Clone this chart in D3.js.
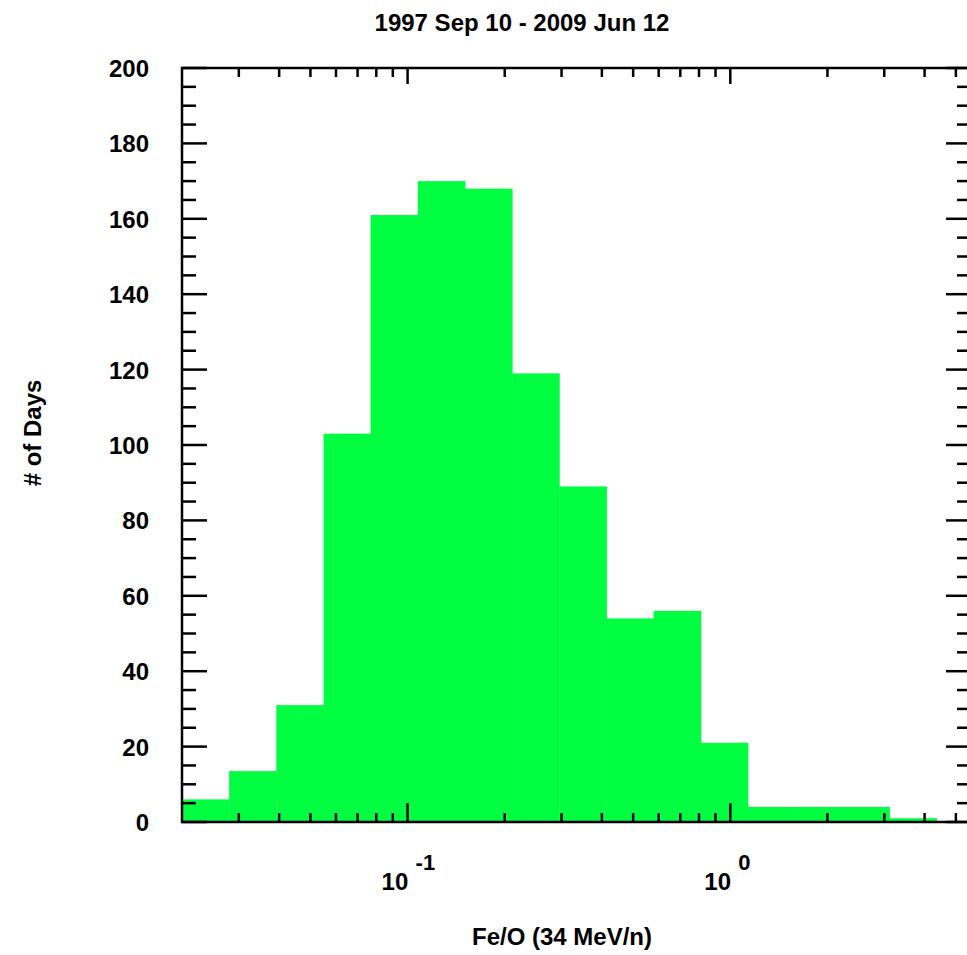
<!DOCTYPE html>
<html>
<head>
<meta charset="utf-8">
<script src="https://cdn.jsdelivr.net/npm/d3@7"></script>
<style>
  body { margin: 0; background: #fff; }
  svg { font-family: "Liberation Sans", Arial, sans-serif; font-weight: bold; }
</style>
</head>
<body>
<svg id="chart" width="967" height="955"></svg>
<script>
// bin edges of Fe/O ratio (log-spaced)
var binEdges = [0.0200, 0.0280, 0.0392, 0.0549, 0.0768, 0.1076, 0.1506, 0.2108, 0.2951,
                0.4132, 0.5785, 0.8099, 1.1338, 1.5874, 2.2224, 3.1113, 4.3558];
// days per bin
var dayCounts = [6, 13.5, 31, 103, 161, 170, 168, 119, 89, 54, 56, 21, 4, 4, 4, 1];
var yTicks = [0, 20, 40, 60, 80, 100, 120, 140, 160, 180, 200];
var xMajor = [{v: 0.1, exp: "-1"}, {v: 1, exp: "0"}];
var xMinor = [0.03, 0.04, 0.05, 0.06, 0.07, 0.08, 0.09, 0.2, 0.3, 0.4, 0.5, 0.6, 0.7, 0.8, 0.9, 2, 3, 4, 5];

var svg = d3.select("#chart");
var plotL = 182, plotR = 971, plotT = 68, plotB = 822;

var x = d3.scaleLog().domain([0.02, 5.57]).range([plotL, plotR]);
var y = d3.scaleLinear().domain([0, 200]).range([plotB, plotT]);

var bins = dayCounts.map(function(c, i) {
  return { x0: binEdges[i], x1: binEdges[i + 1], n: c };
});

svg.append("g").selectAll("rect")
  .data(bins)
  .enter().append("rect")
  .attr("x", d => x(d.x0))
  .attr("width", d => x(d.x1) - x(d.x0) + 0.5)
  .attr("y", d => y(d.n))
  .attr("height", d => plotB - y(d.n))
  .attr("fill", "#00ff40");

var ax = svg.append("g").attr("stroke", "#000").attr("stroke-width", 2.5);

// frame
ax.append("rect").attr("x", plotL).attr("y", plotT)
  .attr("width", plotR - plotL).attr("height", plotB - plotT)
  .attr("fill", "none");

// y ticks, left and right
d3.range(0, 201, 5).forEach(function(v) {
  var len = v % 20 === 0 ? 25 : 14;
  ax.append("line").attr("x1", plotL).attr("x2", plotL + len).attr("y1", y(v)).attr("y2", y(v));
  ax.append("line").attr("x1", plotR).attr("x2", plotR - len).attr("y1", y(v)).attr("y2", y(v));
});

// x ticks, bottom and top
xMinor.forEach(function(v) {
  ax.append("line").attr("x1", x(v)).attr("x2", x(v)).attr("y1", plotB).attr("y2", plotB - 9);
  ax.append("line").attr("x1", x(v)).attr("x2", x(v)).attr("y1", plotT).attr("y2", plotT + 9);
});
xMajor.forEach(function(d) {
  ax.append("line").attr("x1", x(d.v)).attr("x2", x(d.v)).attr("y1", plotB).attr("y2", plotB - 19);
  ax.append("line").attr("x1", x(d.v)).attr("x2", x(d.v)).attr("y1", plotT).attr("y2", plotT + 16);
});

// labels
svg.append("g").selectAll("text")
  .data(yTicks)
  .enter().append("text")
  .attr("x", 149).attr("y", d => y(d) + 9)
  .attr("text-anchor", "end")
  .attr("font-size", 24)
  .text(d => d);

var xl = svg.append("g").selectAll("g")
  .data(xMajor)
  .enter().append("g")
  .attr("transform", d => "translate(" + x(d.v) + ",0)");
xl.append("text").attr("x", -26).attr("y", 890).attr("font-size", 24).text("10");
xl.append("text").attr("x", 8).attr("y", 870).attr("font-size", 22).text(d => d.exp);

svg.append("text").attr("x", 522).attr("y", 31)
  .attr("text-anchor", "middle").attr("font-size", 24)
  .text("1997 Sep 10 - 2009 Jun 12");

svg.append("text").attr("x", 562).attr("y", 945)
  .attr("text-anchor", "middle").attr("font-size", 24)
  .text("Fe/O (34 MeV/n)");

svg.append("text")
  .attr("transform", "translate(41,433) rotate(-90)")
  .attr("text-anchor", "middle").attr("font-size", 24)
  .text("# of Days");
</script>
</body>
</html>
